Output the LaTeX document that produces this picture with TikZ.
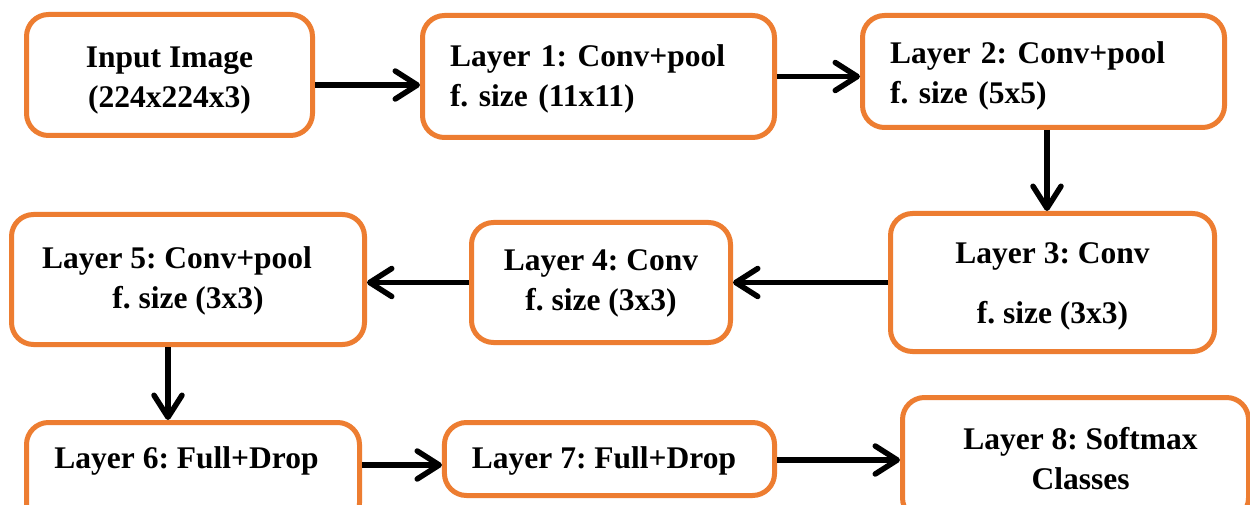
\documentclass[tikz,border=0pt]{standalone}
\usepackage{fontspec}
\setmainfont{Liberation Serif}
\usetikzlibrary{arrows.meta}
\definecolor{boxorange}{HTML}{ED7D31}
% strut that sets the height of a box's first text line
\newcommand{\firstline}[1]{\rule{0pt}{#1}}
\tikzset{
  layerbox/.style={draw=boxorange, line width=5pt, rounded corners=22pt,
    fill=white, inner xsep=27.5pt, inner ysep=0pt,
    font=\fontsize{31.5}{40}\selectfont\bfseries\frenchspacing},
  flow/.style={line width=5.5pt, draw=black,
    -{Straight Barb[length=22pt,width=28pt,round]}}
}
\begin{document}
\begin{tikzpicture}[x=1pt,y=1pt]
\useasboundingbox (0,0) rectangle (1250,504);
\clip (0,0) rectangle (1250,504);
\fill[white] (0,0) rectangle (1250,504);

% first row
\node[layerbox, minimum width=286pt, minimum height=121pt, align=center]
  (in) at (169.5,429) {\firstline{31.5pt}Input Image\\(224x224x3)};
\node[layerbox, minimum width=352pt, minimum height=122pt, text width=297pt, align=left]
  (l1) at (598.5,427.5) {\firstline{27.5pt}Layer 1: Conv+pool\\f. size (11x11)};
\node[layerbox, minimum width=362pt, minimum height=112pt, text width=307pt, align=left]
  (l2) at (1043.5,432.5) {\firstline{31.5pt}Layer 2: Conv+pool\\f. size (5x5)};

% second row
\node[layerbox, minimum width=324pt, minimum height=138pt, align=center]
  (l3) at (1052.5,221.5) {\firstline{29.5pt}Layer 3: Conv\\[20pt]f. size (3x3)};
\node[layerbox, minimum width=259pt, minimum height=120pt, align=center]
  (l4) at (601,221.5) {\firstline{23.5pt}Layer 4: Conv\\f. size (3x3)};
\node[layerbox, minimum width=353pt, minimum height=130pt, align=center]
  (l5) at (188,224.5) {\firstline{25.5pt}Layer 5: Conv+pool\hspace*{22pt}\\f. size (3x3)};

% third row
\node[layerbox, minimum width=333pt, minimum height=102.5pt,
  text height=25.3pt, text depth=35pt]
  (l6) at (193,30.25) {Layer 6: Full+Drop\hspace*{13pt}};
\node[layerbox, minimum width=330pt, minimum height=73pt]
  (l7) at (609.5,45) {\firstline{25.5pt}Layer 7: Full+Drop\hspace*{11pt}};
\node[layerbox, minimum width=346pt, minimum height=122.5pt, align=center]
  (l8) at (1075.5,45.25) {\hspace*{10pt}Layer 8: Softmax\\\hspace*{10pt}Classes};

% connectors
\coordinate (a1) at ([yshift=-10pt]in.east);
\draw[flow] (a1) -- (a1 -| l1.west);
\coordinate (a2) at (l1.east);
\draw[flow] (a2) -- (a2 -| l2.west);
\coordinate (a3) at ([xshift=3.5pt]l2.south);
\draw[flow] (a3) -- (a3 |- l3.north);
\coordinate (a4) at (l3.west);
\draw[flow] (a4) -- (a4 -| l4.east);
\coordinate (a5) at (l4.west);
\draw[flow] (a5) -- (a5 -| l5.east);
\coordinate (a6) at ([xshift=-20pt]l5.south);
\draw[flow] (a6) -- (a6 |- l6.north);
\coordinate (a7) at ([yshift=8.75pt]l6.east);
\draw[flow] (a7) -- (a7 -| l7.west);
\coordinate (a8) at ([yshift=-1pt]l7.east);
\draw[flow] (a8) -- (a8 -| l8.west);
\end{tikzpicture}
\end{document}
